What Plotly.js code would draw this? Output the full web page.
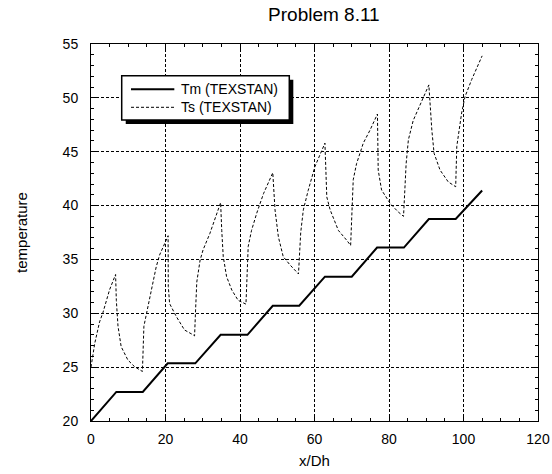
<!DOCTYPE html>
<html>
<head>
<meta charset="utf-8">
<script src="https://cdn.plot.ly/plotly-3.0.1.min.js"></script>
<style>html,body{margin:0;padding:0;background:#fff;}#chart{width:552px;height:474px;}</style>
</head>
<body>
<div id="chart"></div>
<script>
// Tm (TEXSTAN): mean temperature, stepwise rise in heated sections
const tmX = [0, 6.8, 13.9, 20.6, 28.0, 34.8, 42.0, 48.8, 55.9, 62.8, 70.0, 76.8, 84.0, 90.7, 97.9, 105];
const tmY = [20, 22.7, 22.7, 25.35, 25.35, 28.0, 28.0, 30.7, 30.7, 33.4, 33.4, 36.1, 36.1, 38.75, 38.75, 41.4];

// Ts (TEXSTAN): surface temperature
const tsX = [
  0, 1.0, 2.3, 3.2, 5.0, 6.6,
  6.8, 7.25, 8.1, 9.9, 11.7, 13.8,
  14.2, 14.9, 16.2, 17.5, 18.4, 20.7,
  20.75, 21.1, 22.9, 25.1, 27.4, 27.8,
  28.1, 28.4, 29.3, 30.1, 31.9, 33.7, 34.8,
  35.1, 35.5, 36.4, 37.8, 39.5, 41.6,
  42.2, 43.1, 44.5, 46.3, 48.8,
  49.4, 50.3, 51.6, 53.4, 55.7,
  56.3, 57.0, 58.3, 60.1, 62.8,
  63.3, 64.2, 66.4, 68.6, 69.7,
  70.4, 71.3, 73.1, 74.9, 76.9,
  77.1, 78.0, 80.3, 82.5, 83.9,
  84.6, 85.2, 86.5, 88.8, 90.7,
  91.5, 92.1, 93.7, 95.9, 97.9,
  98.2, 99.5, 100.4, 102.2, 105
];
const tsY = [
  25.0, 27.2, 29.2, 30.06, 32.2, 33.6,
  31.2, 28.8, 26.9, 25.66, 25.04, 24.6,
  28.8, 30.0, 32.2, 34.3, 35.4, 37.2,
  32.5, 30.9, 29.7, 28.45, 28.0, 27.9,
  30.5, 32.9, 34.95, 35.9, 37.4, 39.3, 40.27,
  37.7, 35.26, 33.4, 32.16, 31.2, 30.85,
  36.2, 37.7, 39.3, 41.1, 43.05,
  39.6, 37.1, 35.26, 34.5, 33.65,
  37.5, 39.6, 41.4, 43.6, 45.8,
  40.8, 39.6, 37.7, 36.8, 36.3,
  42.4, 43.9, 45.8, 47.0, 48.5,
  43.3, 41.45, 40.2, 39.4, 39.0,
  43.9, 46.1, 47.9, 49.8, 51.2,
  47.0, 44.86, 43.3, 42.2, 41.75,
  45.5, 48.6, 50.1, 51.7, 53.9
];

const seriesNames = ['Tm (TEXSTAN)', 'Ts (TEXSTAN)'];
const FONT = 'Liberation Sans, Arial, sans-serif';
const tmLine = {color: '#000', width: 2};
const tsLine = {color: '#000', width: 1, dash: '3px,2px'};

const traces = [
  {x: tmX, y: tmY, name: seriesNames[0], mode: 'lines', type: 'scatter', line: tmLine},
  {x: tsX, y: tsY, name: seriesNames[1], mode: 'lines', type: 'scatter', line: tsLine}
];

const axisCommon = {
  showline: true, linecolor: '#000', linewidth: 1, mirror: 'ticks',
  ticks: 'inside', ticklen: 5, tickcolor: '#000', tickwidth: 1,
  showgrid: true, gridcolor: '#000', gridwidth: 1, griddash: '3px,2px',
  zeroline: false, tickfont: {family: FONT, size: 14, color: '#000'}
};

// legend box (drawn as a framed box with drop shadow, like the original)
const legX0 = 0.0687, legX1 = 0.4436, legY0 = 0.7984, legY1 = 0.9159;
const shX = 0.009, shY = 0.0106;
const legLineX0 = 0.0895, legLineX1 = 0.1864, legTextX = 0.1969;
const legRowY = [0.8798, 0.8321];
const legStyles = [tmLine, tsLine];

const shapes = [
  {type: 'rect', xref: 'paper', yref: 'paper', x0: legX0 + shX, x1: legX1 + shX, y0: legY0 - shY, y1: legY1 - shY,
   fillcolor: '#000', line: {width: 0}, layer: 'above'},
  {type: 'rect', xref: 'paper', yref: 'paper', x0: legX0, x1: legX1, y0: legY0, y1: legY1,
   fillcolor: '#fff', line: {color: '#000', width: 1.5}, layer: 'above'}
];
const annotations = [];
seriesNames.forEach((nm, i) => {
  shapes.push({type: 'line', xref: 'paper', yref: 'paper', x0: legLineX0, x1: legLineX1,
               y0: legRowY[i], y1: legRowY[i], line: legStyles[i], layer: 'above'});
  annotations.push({text: nm, xref: 'paper', yref: 'paper', x: legTextX, y: legRowY[i],
                    xanchor: 'left', yanchor: 'middle', showarrow: false,
                    font: {family: FONT, size: 14, color: '#000'}});
});

const layout = {
  width: 552, height: 474,
  margin: {l: 91, r: 14, t: 44, b: 53},
  paper_bgcolor: '#fff', plot_bgcolor: '#fff',
  font: {family: FONT, color: '#000'},
  title: {text: 'Problem 8.11', font: {family: FONT, size: 19, color: '#000'},
          x: 0.521, xref: 'paper', xanchor: 'center', y: 0.97, yref: 'container', yanchor: 'middle'},
  xaxis: Object.assign({}, axisCommon, {
    range: [0, 120], dtick: 20, tick0: 0, ticklabelstandoff: 5,
    minor: {dtick: 5, ticks: 'inside', ticklen: 3, tickcolor: '#000', showgrid: false},
    title: {text: 'x/Dh', font: {family: FONT, size: 15, color: '#000'}, standoff: 9}
  }),
  yaxis: Object.assign({}, axisCommon, {
    range: [20, 55], dtick: 5, tick0: 20, ticklabelstandoff: 9,
    minor: {dtick: 1, ticks: 'inside', ticklen: 3, tickcolor: '#000', showgrid: false},
    title: {text: 'temperature', font: {family: FONT, size: 15, color: '#000'}, standoff: 31}
  }),
  showlegend: false,
  shapes: shapes,
  annotations: annotations
};

Plotly.newPlot('chart', traces, layout, {displayModeBar: false, staticPlot: true});
</script>
</body>
</html>
